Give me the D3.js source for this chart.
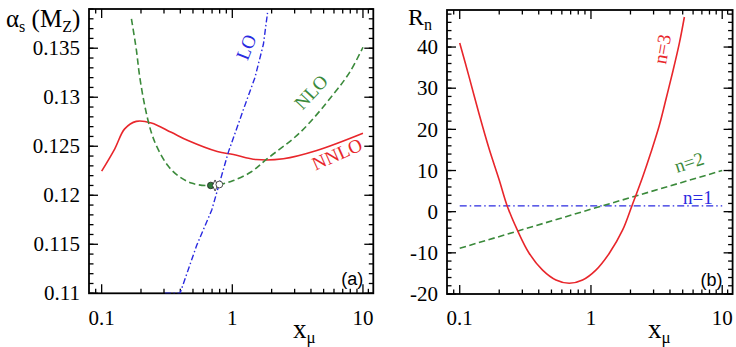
<!DOCTYPE html>
<html><head><meta charset="utf-8">
<script src="https://cdn.jsdelivr.net/npm/d3@7"></script>
<style>body{margin:0;background:#fff}svg{display:block}</style>
</head><body>
<svg id="c" width="736" height="347"></svg>
<script>
// ---------- Panel (a): alpha_s(M_Z) vs x_mu ----------
const loX   = [0.305, 0.398, 0.534, 0.696, 0.933, 1.22, 1.49, 1.73, 1.86];
const loY   = [0.110, 0.110, 0.1149, 0.1185, 0.1244, 0.1288, 0.1320, 0.1354, 0.1386];
const nloX  = [0.169, 0.184, 0.195, 0.214, 0.240, 0.270, 0.322, 0.384, 0.486, 0.652, 0.80, 1.02, 1.4, 1.84, 3.30, 5.94, 7.96, 10.0];
const nloY  = [0.1380, 0.1349, 0.1322, 0.1291, 0.1264, 0.1247, 0.1230, 0.1220, 0.12124, 0.12098, 0.1211, 0.1215, 0.1224, 0.1237, 0.1264, 0.1303, 0.1326, 0.1351];
const nnloX = [0.1, 0.126, 0.150, 0.184, 0.240, 0.341, 0.458, 0.767, 1.02, 1.52, 2.46, 4.43, 10.0];
const nnloY = [0.12246, 0.12474, 0.12677, 0.12754, 0.12738, 0.12642, 0.12558, 0.12446, 0.12416, 0.12365, 0.12372, 0.12456, 0.12632];
const markX = [0.684, 0.738, 0.796];
const markY = [0.1210, 0.1210, 0.1211];
const markKind = ["filledCircle", "diamond", "openCircle"];
const aYTicks = [0.11, 0.115, 0.12, 0.125, 0.13, 0.135];
const aYLabels = ["0.11", "0.115", "0.12", "0.125", "0.13", "0.135"];

// ---------- Panel (b): R_n vs x_mu ----------
const n1X = [0.1, 10];
const n1Y = [1.4, 1.4];
const n2X = [0.1, 1, 10];
const n2Y = [-8.9, 0.6, 10.0];
const n3X = [0.1, 0.118, 0.140, 0.167, 0.200, 0.230, 0.275, 0.338, 0.428, 0.541, 0.683, 0.863, 1.09, 1.38, 1.74, 2.05, 2.48, 2.87, 3.32, 3.74, 4.20, 4.72, 5.15];
const n3Y = [41.0, 32.7, 23.9, 15.4, 7.7, 1.4, -4.5, -10.1, -14.2, -16.6, -17.4, -16.6, -14.2, -10.1, -4.5, 1.4, 8.5, 14.5, 21.0, 27.5, 34.0, 41.0, 47.3];
const bYTicks = [-20, -10, 0, 10, 20, 30, 40];
const bYLabels = ["-20", "-10", "0", "10", "20", "30", "40"];

const xTicks = [0.1, 1, 10];
const xLabels = ["0.1", "1", "10"];

const RED = "#e8262b", GREEN = "#3b8a3b", BLUE = "#2a2ae0";
const SERIF = "'Liberation Serif','Times New Roman',serif";
const SANS = "'Liberation Sans',Arial,sans-serif";

const svg = d3.select("#c");

function panel(opt) {
  const x = d3.scaleLog().domain([0.08, 12]).range([opt.left, opt.right]);
  const y = d3.scaleLinear().domain(opt.yDomain).range([opt.bottom, opt.top]);
  const g = svg.append("g");
  const clipId = "clip" + opt.id;
  svg.append("clipPath").attr("id", clipId).append("rect")
    .attr("x", opt.left).attr("y", opt.top)
    .attr("width", opt.right - opt.left).attr("height", opt.bottom - opt.top);

  const xMinor = [];
  for (const dec of [0.01, 0.1, 1, 10]) for (let k = 2; k <= 9; k++) {
    const v = k * dec; if (v > 0.08 && v < 12) xMinor.push(v);
  }
  xMinor.push(11);
  const tk = g.append("g").attr("stroke", "#000").attr("stroke-width", 1.3);
  xMinor.forEach(v => {
    tk.append("line").attr("x1", x(v)).attr("x2", x(v)).attr("y1", opt.bottom).attr("y2", opt.bottom - 4.5);
    tk.append("line").attr("x1", x(v)).attr("x2", x(v)).attr("y1", opt.top).attr("y2", opt.top + 4.5);
  });
  xTicks.forEach(v => {
    tk.append("line").attr("x1", x(v)).attr("x2", x(v)).attr("y1", opt.bottom).attr("y2", opt.bottom - 9);
    tk.append("line").attr("x1", x(v)).attr("x2", x(v)).attr("y1", opt.top).attr("y2", opt.top + 9);
  });
  opt.yMinor.forEach(v => {
    tk.append("line").attr("x1", opt.left).attr("x2", opt.left + 4.5).attr("y1", y(v)).attr("y2", y(v));
    tk.append("line").attr("x1", opt.right).attr("x2", opt.right - 4.5).attr("y1", y(v)).attr("y2", y(v));
  });
  opt.yTicks.forEach(v => {
    tk.append("line").attr("x1", opt.left).attr("x2", opt.left + 9).attr("y1", y(v)).attr("y2", y(v));
    tk.append("line").attr("x1", opt.right).attr("x2", opt.right - 9).attr("y1", y(v)).attr("y2", y(v));
  });
  g.append("rect").attr("x", opt.left).attr("y", opt.top)
    .attr("width", opt.right - opt.left).attr("height", opt.bottom - opt.top)
    .attr("fill", "none").attr("stroke", "#000").attr("stroke-width", 1.8);

  xTicks.forEach((v, i) => {
    g.append("text").attr("x", x(v)).attr("y", 325).attr("text-anchor", "middle")
      .attr("font-family", SERIF).attr("font-size", 21).text(xLabels[i]);
  });
  opt.yTicks.forEach((v, i) => {
    g.append("text").attr("x", opt.left - 9).attr("y", y(v)).attr("dy", "0.34em")
      .attr("text-anchor", "end").attr("font-family", SERIF).attr("font-size", 21).text(opt.yLabels[i]);
  });
  const xt = g.append("text").attr("x", opt.xTitleX).attr("y", 338)
    .attr("font-family", SERIF).attr("font-size", 27);
  xt.append("tspan").text("x");
  xt.append("tspan").attr("font-size", 17).attr("dy", 5).text("μ");
  g.append("text").attr("x", opt.right - 10).attr("y", opt.bottom - 8).attr("text-anchor", "end")
    .attr("font-family", SANS).attr("font-size", 18).text(opt.tag);

  return {x, y, clip: `url(#${clipId})`};
}

function curve(p, xs, ys, color, dash, w, curveType) {
  const pts = xs.map((v, i) => [v, ys[i]]);
  const line = d3.line().x(d => p.x(d[0])).y(d => p.y(d[1])).curve(curveType || d3.curveCatmullRom.alpha(0.5));
  svg.append("path").attr("d", line(pts)).attr("fill", "none").attr("stroke", color)
    .attr("stroke-width", w).attr("stroke-dasharray", dash).attr("clip-path", p.clip);
}

function label(px, py, txt, color, angle, size) {
  svg.append("text").attr("transform", `translate(${px},${py}) rotate(${angle})`)
    .attr("text-anchor", "middle").attr("dy", "0.35em")
    .attr("font-family", SERIF).attr("font-size", size).attr("fill", color).text(txt);
}

// Panel (a)
const aMinor = d3.range(0.110, 0.1395, 0.001);
const pa = panel({id: "a", left: 89, right: 373.3, top: 9, bottom: 293.3, yDomain: [0.11, 0.139],
  yTicks: aYTicks, yLabels: aYLabels, yMinor: aMinor, xTitleX: 293, tag: "(a)"});
curve(pa, nnloX, nnloY, RED, null, 1.6);
curve(pa, nloX, nloY, GREEN, "6.5,3.5", 1.6);
curve(pa, loX, loY, BLUE, "6,2.5,1.5,2.5", 1.4, d3.curveLinear);

markX.forEach((v, i) => {
  const cx = pa.x(v), cy = pa.y(markY[i]);
  if (markKind[i] === "filledCircle") {
    svg.append("circle").attr("cx", cx).attr("cy", cy).attr("r", 3.3).attr("fill", "#2f7a3a").attr("stroke", "#222").attr("stroke-width", 0.8);
  } else if (markKind[i] === "openCircle") {
    svg.append("circle").attr("cx", cx).attr("cy", cy).attr("r", 3.4).attr("fill", "#fff").attr("stroke", "#222").attr("stroke-width", 0.8);
  } else {
    svg.append("path").attr("d", `M${cx},${cy-5.5}L${cx+2.6},${cy}L${cx},${cy+5.5}L${cx-2.6},${cy}Z`)
      .attr("fill", "#fff").attr("stroke", "#222").attr("stroke-width", 0.8);
  }
});

label(246, 47, "LO", BLUE, -68, 19);
label(311, 92, "NLO", GREEN, -47, 19);
label(337, 154, "NNLO", RED, -24, 19);

const ya = svg.append("text").attr("x", 6).attr("y", 27).attr("font-family", SERIF).attr("font-size", 25);
ya.append("tspan").text("α");
ya.append("tspan").attr("font-size", 16).attr("dy", 5).text("s");
ya.append("tspan").attr("dy", -5).text(" (M");
ya.append("tspan").attr("font-size", 16).attr("dy", 5).text("Z");
ya.append("tspan").attr("dy", -5).text(")");

// Panel (b)
const bMinor = d3.range(-20, 49, 2);
const pb = panel({id: "b", left: 447, right: 732.6, top: 10, bottom: 294, yDomain: [-20, 49],
  yTicks: bYTicks, yLabels: bYLabels, yMinor: bMinor, xTitleX: 648, tag: "(b)"});
curve(pb, n1X, n1Y, BLUE, "7,3,1.5,3", 1.4, d3.curveLinear);
curve(pb, n2X, n2Y, GREEN, "6.5,3.5", 1.6, d3.curveLinear);
curve(pb, n3X, n3Y, RED, null, 1.6);

label(662, 49, "n=3", RED, -80, 19);
label(689, 162, "n=2", GREEN, -18, 19);
svg.append("text").attr("x", 683).attr("y", 204).attr("font-family", SERIF).attr("font-size", 19)
  .attr("fill", BLUE).text("n=1");

const yb = svg.append("text").attr("x", 408).attr("y", 25).attr("font-family", SERIF).attr("font-size", 24);
yb.append("tspan").text("R");
yb.append("tspan").attr("font-size", 16).attr("dy", 5).text("n");
</script>
</body></html>
